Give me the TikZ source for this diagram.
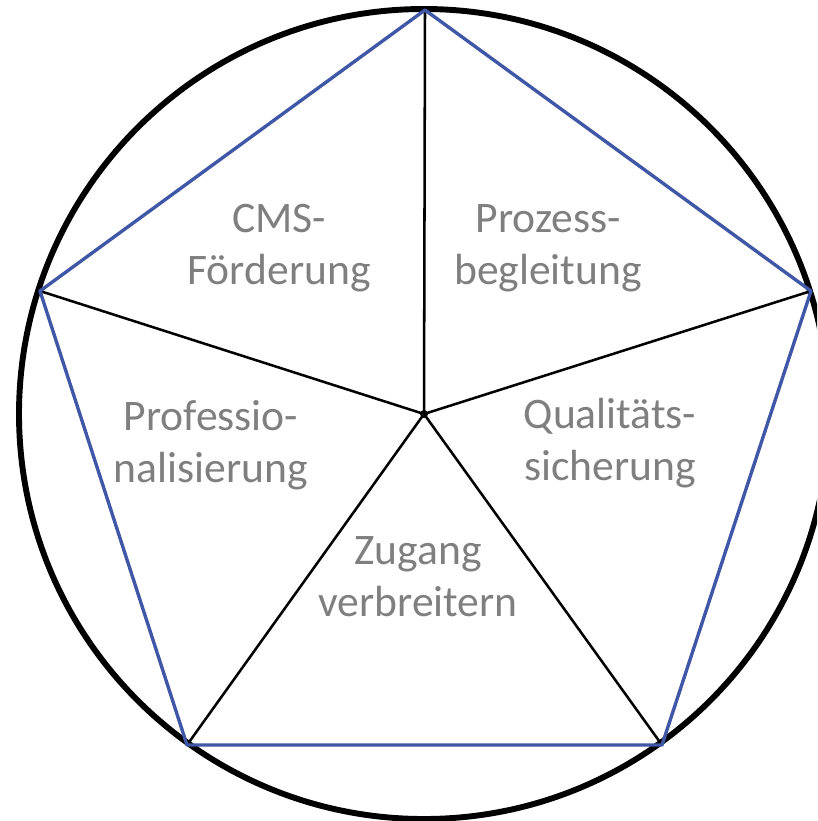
\documentclass[tikz,border=0pt]{standalone}
\usepackage{fontspec}
\setmainfont{Carlito}
\usepackage{tikz}
\definecolor{penta}{RGB}{63,87,166}
\definecolor{lbl}{RGB}{127,127,127}
\tikzset{
	spoke/.style={line width=1.8pt, black},
	rim/.style={line width=2.4pt, penta, line join=round},
	field/.style={align=center, text=lbl, font=\fontsize{31}{37}\selectfont, inner sep=0pt}
}

\begin{document}
\begin{tikzpicture}[x=0.025cm, y=-0.025cm]
	\useasboundingbox (0,0) rectangle (817,821);
	\clip (0,0) rectangle (817,821);
	\coordinate (hub) at (424,414);
	\coordinate (apex) at (425,10);
	\coordinate (lcorner) at (40,291);
	\coordinate (rcorner) at (811,291);
	\coordinate (lfoot) at (187,745);
	\coordinate (rfoot) at (662,745);
	%
	\draw [line width=4.2pt] (hub) circle (405);
	\draw [spoke] (hub) -- (apex);
	\draw [spoke] (hub) -- (lcorner);
	\draw [spoke] (hub) -- (rcorner);
	\draw [spoke] (hub) -- (lfoot);
	\draw [spoke] (hub) -- (rfoot);
	\draw [rim] (apex) -- (rcorner) -- (rfoot) -- (lfoot) -- (lcorner) -- cycle;
	\fill (hub) circle (4);
	%
	\node [field] (cms) at (279,248) {CMS-\\Förderung};
	\node [field] (proz) at (548,248) {Prozess-\\begleitung};
	\node [field] (prof) at (211,445) {Professio-\\nalisierung};
	\node [field] (qual) at (610,443) {Qualitäts-\\sicherung};
	\node [field] (zug) at (418,577) {Zugang\\verbreitern};
\end{tikzpicture}
\end{document}
